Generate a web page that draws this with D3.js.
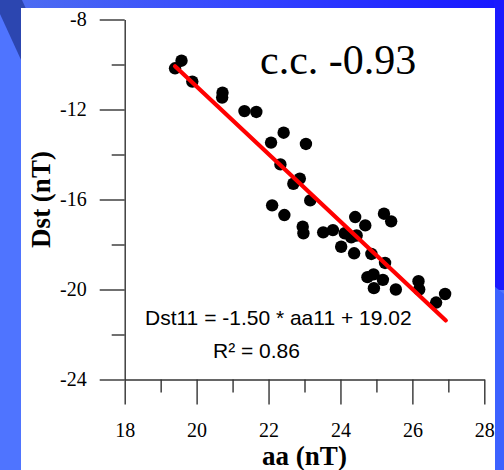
<!DOCTYPE html>
<html>
<head>
<meta charset="utf-8">
<script src="https://cdn.jsdelivr.net/npm/d3@7/dist/d3.min.js"></script>
<style>
html,body{margin:0;padding:0;background:#4f74ff;}
svg{display:block;}
</style>
</head>
<body>
<svg id="chart" width="504" height="470"></svg>
<script>
// ---- data ----
const aaValues  = [19.40,19.58,19.88,20.72,20.71,21.33,21.66,22.42,22.07,23.04,22.33,22.87,22.69,23.16,22.10,22.44,22.95,22.97,23.52,23.79,24.41,24.69,25.21,25.41,24.12,24.30,24.45,24.02,24.38,24.86,25.24,24.75,24.92,25.18,24.93,25.54,26.17,26.19,26.66,26.91];
const dstValues = [-10.17,-9.83,-10.76,-11.25,-11.47,-12.07,-12.11,-13.03,-13.47,-13.53,-14.44,-15.07,-15.30,-16.04,-16.26,-16.69,-17.21,-17.50,-17.46,-17.36,-16.78,-17.15,-16.63,-16.97,-17.50,-17.68,-17.60,-18.10,-18.39,-18.42,-18.82,-19.45,-19.33,-19.57,-19.94,-20.00,-19.63,-20.00,-20.58,-20.20];
const fitSlope = -1.50, fitIntercept = 19.02;
const fitRange = [19.40, 26.93];
const xMajorTicks = [18,20,22,24,26,28];
const xMinorTicks = [19,21,23,25,27];
const yMajorTicks = [-8,-12,-16,-20,-24];
const yMinorTicks = [-10,-14,-18,-22];
const ccText = "c.c. -0.93";
const eqText = "Dst11 = -1.50 * aa11 + 19.02";
const r2Text = "R\u00B2 = 0.86";
const xTitle = "aa (nT)", yTitle = "Dst (nT)";

const SERIF = "\"Liberation Serif\", \"Times New Roman\", serif";
const SANS = "\"Liberation Sans\", Arial, sans-serif";

const svg = d3.select("#chart");
const defs = svg.append("defs");
const tg = defs.append("linearGradient").attr("id","topg").attr("x1","0").attr("x2","1").attr("y1","0").attr("y2","0");
tg.append("stop").attr("offset","0").attr("stop-color","#4f70f0");
tg.append("stop").attr("offset","0.5").attr("stop-color","#3344ff");
tg.append("stop").attr("offset","1").attr("stop-color","#1616ff");

// background
svg.append("rect").attr("width",504).attr("height",470).attr("fill","#4f74ff");
svg.append("rect").attr("width",504).attr("height",10).attr("fill","url(#topg)");
svg.append("rect").attr("x",494).attr("y",0).attr("width",10).attr("height",290).attr("fill","#1a1aff");
svg.append("polygon").attr("points","494,286 504,294 504,470 494,470").attr("fill","#3c62ff");
svg.append("polygon").attr("points","0,0 22,0 40,40 22,62 0,14").attr("fill","#2c46b0");
// white panel
svg.append("rect").attr("x",21).attr("y",8).attr("width",474).attr("height",462).attr("fill","#ffffff");

const x = d3.scaleLinear().domain([18,28]).range([124.7,484.3]);
const y = d3.scaleLinear().domain([-24,-8]).range([379.5,19.5]);

const axisColor = "#333";
const fmt = d => String(d);
function styleAxis(g){
  g.selectAll("path,line").attr("stroke",axisColor).attr("stroke-width",1.4);
  g.selectAll("text").attr("font-family",SERIF).attr("font-size",20).attr("fill","#000");
}

// y axis
svg.append("g").attr("transform","translate(124.7,0)")
  .call(d3.axisLeft(y).tickValues(yMajorTicks).tickSize(25).tickSizeOuter(0).tickPadding(13).tickFormat(fmt))
  .call(styleAxis);
svg.append("g").attr("transform","translate(124.7,0)")
  .call(d3.axisLeft(y).tickValues(yMinorTicks).tickSize(13).tickSizeOuter(0).tickFormat(""))
  .call(styleAxis).call(g=>g.select(".domain").remove());

// x axis
svg.append("g").attr("transform","translate(0,379.5)")
  .call(d3.axisBottom(x).tickValues(xMajorTicks).tickSize(25).tickSizeOuter(0).tickPadding(18).tickFormat(fmt))
  .call(styleAxis);
svg.append("g").attr("transform","translate(0,379.5)")
  .call(d3.axisBottom(x).tickValues(xMinorTicks).tickSize(13).tickSizeOuter(0).tickFormat(""))
  .call(styleAxis).call(g=>g.select(".domain").remove());

// titles
svg.append("text").attr("x",304.5).attr("y",465).attr("text-anchor","middle")
  .attr("font-family",SERIF).attr("font-weight","bold").attr("font-size",27)
  .text(xTitle);
svg.append("text").attr("transform","translate(49.5,199.5) rotate(-90)").attr("text-anchor","middle")
  .attr("font-family",SERIF).attr("font-weight","bold").attr("font-size",27)
  .text(yTitle);

// points
const pts = aaValues.map((a,i)=>({a, d:dstValues[i]}));
svg.append("g").selectAll("circle").data(pts).join("circle")
  .attr("cx",p=>x(p.a)).attr("cy",p=>y(p.d)).attr("r",6.2).attr("fill","#000");

// fit line
svg.append("line")
  .attr("x1",x(fitRange[0])).attr("y1",y(fitSlope*fitRange[0]+fitIntercept))
  .attr("x2",x(fitRange[1])).attr("y2",y(fitSlope*fitRange[1]+fitIntercept))
  .attr("stroke","#ff0000").attr("stroke-width",4.2).attr("stroke-linecap","round");

// annotations
svg.append("text").attr("x",260).attr("y",74)
  .attr("font-family",SERIF).attr("font-size",42).attr("fill","#000")
  .text(ccText);
svg.append("text").attr("x",145).attr("y",324.5)
  .attr("font-family",SANS).attr("font-size",21).attr("fill","#000")
  .text(eqText);
svg.append("text").attr("x",213).attr("y",357.7)
  .attr("font-family",SANS).attr("font-size",21).attr("fill","#000")
  .text(r2Text);
</script>
</body>
</html>
